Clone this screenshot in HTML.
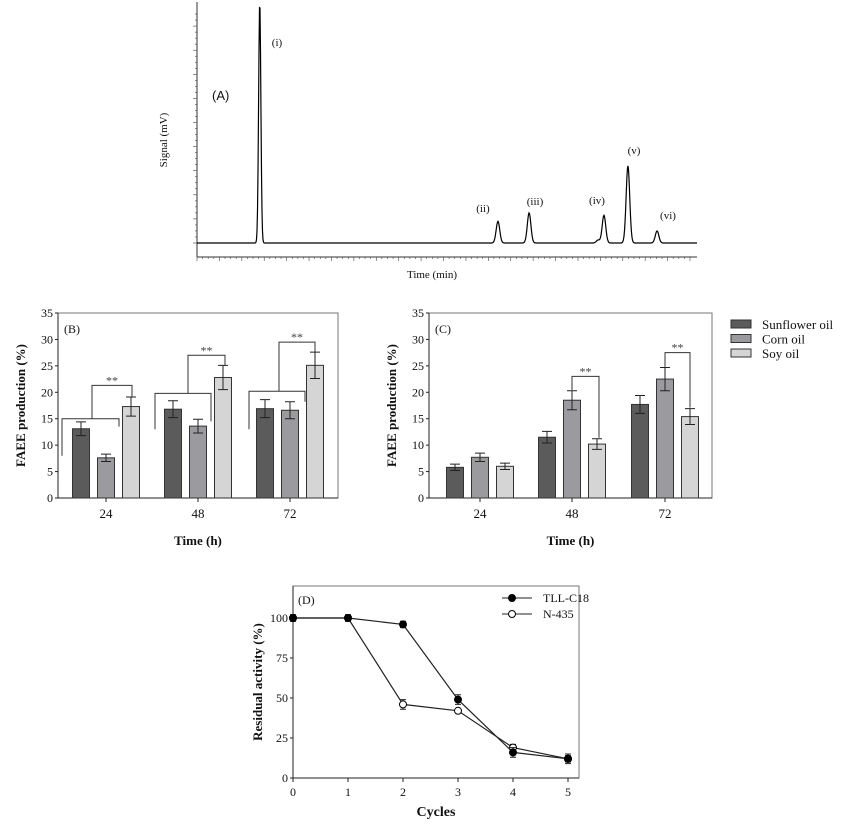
<!DOCTYPE html>
<html><head><meta charset="utf-8"><style>
body{margin:0;background:#fff;width:862px;height:820px;overflow:hidden}
svg{font-family:"Liberation Serif",serif}
</style></head><body>
<svg id="s" width="862" height="820" viewBox="0 0 862 820" xmlns="http://www.w3.org/2000/svg"></svg>
<script>
// Panel A chromatogram peaks
const peakTimes=[2.8,13.43,14.82,17.9,18.16,19.23,20.53];
const peakHeights=[1000,90,125,12,115,320,50];
const peakLabels=["(i)","(ii)","(iii)","(iv)","(v)","(vi)"];
// Panel B
const cats=["24","48","72"];
const bSun=[13.1,16.8,16.9], bCorn=[7.6,13.6,16.6], bSoy=[17.3,22.8,25.1];
const bSunE=[1.3,1.6,1.7], bCornE=[0.7,1.3,1.6], bSoyE=[1.8,2.3,2.5];
// Panel C
const cSun=[5.8,11.5,17.7], cCorn=[7.7,18.5,22.5], cSoy=[6.0,10.2,15.4];
const cSunE=[0.6,1.1,1.7], cCornE=[0.8,1.8,2.2], cSoyE=[0.6,1.0,1.5];
const yTicks=[0,5,10,15,20,25,30,35];
// Panel D
const cycles=[0,1,2,3,4,5];
const tll=[100,100,96,49,16,12], n435=[100,100,46,42,19,12];
const tllE=[2,2,2,3,3,3], n435E=[2,2,3,1,2,2];
const dTicks=[0,25,50,75,100];
const seriesNames=["Sunflower oil","Corn oil","Soy oil"];
const colors=["#5b5b5b","#9b9b9f","#d5d5d5"];

const S=document.getElementById('s'),NS="http://www.w3.org/2000/svg";
function el(t,a,p){const e=document.createElementNS(NS,t);for(const k in a)e.setAttribute(k,a[k]);(p||S).appendChild(e);return e;}
function tx(x,y,s,a,p){const e=el('text',Object.assign({x:x,y:y,'font-size':12,fill:'#111'},a||{}),p);e.textContent=s;return e;}

// ---- Panel A ----
(function(){
const g=el('g',{});


const x0=197,x1=690,t0=0,t1=22,base=243,top=2;
const X=t=>x0+(t-t0)/(t1-t0)*(x1-x0);
const Y=v=>base-v/1000*(base-top);
el('line',{x1:x0,y1:top,x2:x0,y2:257,stroke:'#333','stroke-width':1},g);
el('line',{x1:x0,y1:257,x2:697,y2:257,stroke:'#333','stroke-width':1},g);
for(let t=0;t<=22;t+=0.25){const x=X(t);if(x>697)break;el('line',{x1:x,y1:257,x2:x,y2:t%1===0?261:259,stroke:'#444','stroke-width':0.6},g);}
for(let v=0;v<=950;v+=25){el('line',{x1:x0-(v%100===0?4:2),y1:Y(v),x2:x0,y2:Y(v),stroke:'#444','stroke-width':0.6},g);}
let d="";
for(let px=x0;px<=697;px+=0.5){const t=t0+(px-x0)/(x1-x0)*(t1-t0);let v=0;
 peakTimes.forEach((pt,i)=>{const w=i===0?0.05:0.08;v+=peakHeights[i]*Math.exp(-((t-pt)*(t-pt))/(2*w*w));});
 v=Math.min(v,1000);d+=(d?"L":"M")+px+","+Y(v).toFixed(1);}
const p=el('path',{d:d,fill:'none',stroke:'#000','stroke-width':1.2},g);


const lo=[[277,46],[483,212],[535,205],[597,204],[634,154],[668,219]];
peakLabels.forEach((l,i)=>{const t=tx(lo[i][0],lo[i][1],l,{'font-size':11,'text-anchor':'middle'},g);
 });
tx(212,100,"(A)",{'font-family':'Liberation Sans, sans-serif','font-size':13},g);
tx(432,278,"Time (min)",{'font-size':11,'text-anchor':'middle'},g);
const yl=tx(0,0,"Signal (mV)",{'font-size':11,'text-anchor':'middle',transform:'translate(167,140) rotate(-90)'},g);

})();

// ---- Bar panels ----
function barPanel(name,label,L,R,centers,vals,errs,brackets){
const g=el('g',{});


const y0=498,y35=313;const Y=v=>y0-v/35*(y0-y35);
el('rect',{x:L,y:y35,width:R-L,height:y0-y35,fill:'none',stroke:'#777','stroke-width':1},g);
el('line',{x1:L,y1:y35,x2:L,y2:y0,stroke:'#222'},g);
el('line',{x1:L,y1:y0,x2:R,y2:y0,stroke:'#222'},g);
yTicks.forEach(v=>{el('line',{x1:L-3,y1:Y(v),x2:L,y2:Y(v),stroke:'#222'},g);
 tx(L-5,Y(v)+4,String(v),{'font-size':12,'text-anchor':'end'},g);});
cats.forEach((c,i)=>{el('line',{x1:centers[i],y1:y0,x2:centers[i],y2:y0+4,stroke:'#222'},g);
 tx(centers[i],y0+20,c,{'font-size':13,'text-anchor':'middle'},g);});
for(let s=0;s<3;s++)cats.forEach((c,i)=>{
 const cx=centers[i]+(s-1)*25,v=vals[s][i],e=errs[s][i];
 const r=el('rect',{x:cx-8.5,y:Y(v),width:17,height:y0-Y(v),fill:colors[s],stroke:'#333','stroke-width':1},g);
 
 
 el('path',{d:`M${cx},${Y(v+e)}V${Y(v-e)}M${cx-5},${Y(v+e)}H${cx+5}M${cx-5},${Y(v-e)}H${cx+5}`,stroke:'#222',fill:'none','stroke-width':1},g);
});
brackets.forEach(b=>{
 el('path',{d:`M${b[0]},${Y(b[1])}V${Y(b[2])}H${b[3]}V${Y(b[4])}`,fill:'none',stroke:'#333','stroke-width':1},g);
 if(b[5])tx((b[0]+b[3])/2,Y(b[2])-1,"**",{'font-size':12,'text-anchor':'middle',fill:'#444'},g);
});
tx(L+6,y35+20,label,{'font-size':12},g);
tx((L+R)/2,y0+47,"Time (h)",{'font-size':13,'font-weight':'bold','text-anchor':'middle'},g);
const yl=tx(0,0,"FAEE production (%)",{'font-size':13,'font-weight':'bold','text-anchor':'middle',transform:`translate(${L-33},${(y0+y35)/2}) rotate(-90)`},g);


}
barPanel('bar-chart-b','(B)',58,338,[106,198,290],[bSun,bCorn,bSoy],[bSunE,bCornE,bSoyE],[
 [62,8,15,119,13.5,0],[92,15,21.3,132,bSoy[0]+bSoyE[0],1],
 [155,13,19.8,211,14.5,0],[188,19.8,27,225,bSoy[1]+bSoyE[1],1],
 [249,13,20.2,305,18.2,0],[279,20.2,29.5,315,bSoy[2]+bSoyE[2],1]]);
barPanel('bar-chart-c','(C)',429,712,[480,572,665],[cSun,cCorn,cSoy],[cSunE,cCornE,cSoyE],[
 [572,cCorn[1]+cCornE[1]+0.1,23,599,cSoy[1]+cSoyE[1]+0.2,1],
 [665,cCorn[2]+cCornE[2]+0.1,27.5,690,cSoy[2]+cSoyE[2]+0.2,1]]);
// legend
seriesNames.forEach((n,i)=>{const y=324+i*14.5;
 const r=el('rect',{x:731,y:y-4,width:20,height:8,fill:colors[i],stroke:'#333'});
 
 const t=tx(762,y+5,n,{'font-size':13});});

// ---- Panel D ----
(function(){
const g=el('g',{});


const L=293,R=579,T0=586,y0=778,y100=618;
const X=c=>L+c/5*(568-L), Y=v=>y0-v/100*(y0-y100);
el('rect',{x:L,y:T0,width:R-L,height:y0-T0,fill:'none',stroke:'#777'},g);
el('line',{x1:L,y1:T0,x2:L,y2:y0,stroke:'#222'},g);
el('line',{x1:L,y1:y0,x2:R,y2:y0,stroke:'#222'},g);
dTicks.forEach(v=>{el('line',{x1:L-3,y1:Y(v),x2:L,y2:Y(v),stroke:'#222'},g);tx(L-5,Y(v)+4,String(v),{'font-size':12,'text-anchor':'end'},g);});
cycles.forEach(c=>{el('line',{x1:X(c),y1:y0,x2:X(c),y2:y0+4,stroke:'#222'},g);tx(X(c),y0+18,String(c),{'font-size':12,'text-anchor':'middle'},g);});
[[n435,n435E,'#fff','n435'],[tll,tllE,'#000','tll-c18']].forEach(s=>{
 el('polyline',{points:cycles.map((c,i)=>X(c)+","+Y(s[0][i])).join(" "),fill:'none',stroke:'#222','stroke-width':1.2},g);
 cycles.forEach((c,i)=>{const v=s[0][i],e=s[1][i];
  el('path',{d:`M${X(c)},${Y(v+e)}V${Y(v-e)}M${X(c)-3},${Y(v+e)}H${X(c)+3}M${X(c)-3},${Y(v-e)}H${X(c)+3}`,stroke:'#222',fill:'none'},g);
  const p=el('circle',{cx:X(c),cy:Y(v),r:3.5,fill:s[2],stroke:'#000','stroke-width':1},g);
  });
});
tx(L+5,T0+18,"(D)",{'font-size':12},g);
[['TLL-C18','#000',598],['N-435','#fff',614]].forEach(l=>{
 el('line',{x1:502,y1:l[2],x2:532,y2:l[2],stroke:'#222'},g);
 el('circle',{cx:512,cy:l[2],r:3.5,fill:l[1],stroke:'#000'},g);
 const t=tx(543,l[2]+4,l[0],{'font-size':12},g);});
tx((L+R)/2,y0+38,"Cycles",{'font-size':14,'font-weight':'bold','text-anchor':'middle'},g);
tx(0,0,"Residual activity (%)",{'font-size':13,'font-weight':'bold','text-anchor':'middle',transform:`translate(262,${(T0+y0)/2}) rotate(-90)`},g);
})();
</script>
</body></html>
